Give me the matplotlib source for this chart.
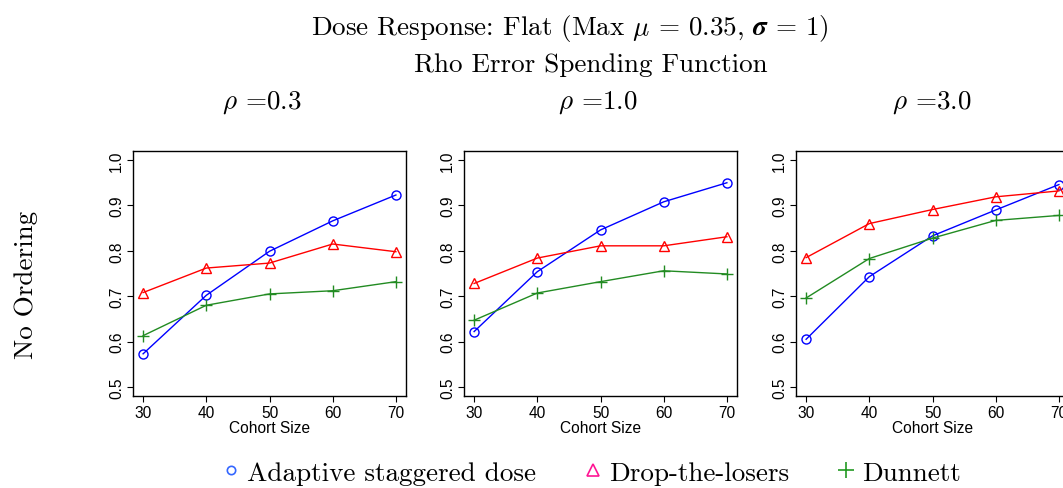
import numpy as np
import matplotlib
matplotlib.use('Agg')
import matplotlib.pyplot as plt
from matplotlib.lines import Line2D

plt.rcParams['mathtext.fontset'] = 'cm'
plt.rcParams['font.family'] = ['Liberation Sans', 'DejaVu Sans']

##### data
cohort = [30, 40, 50, 60, 70]
rho_labels = ['0.3', '1.0', '3.0']

asd_vals = [[0.573, 0.702, 0.799, 0.866, 0.923],
            [0.622, 0.754, 0.846, 0.908, 0.950],
            [0.605, 0.743, 0.833, 0.890, 0.946]]
dtl_vals = [[0.708, 0.762, 0.773, 0.815, 0.798],
            [0.728, 0.784, 0.811, 0.811, 0.831],
            [0.785, 0.860, 0.891, 0.919, 0.932]]
dun_vals = [[0.613, 0.680, 0.705, 0.712, 0.732],
            [0.647, 0.707, 0.732, 0.756, 0.749],
            [0.696, 0.783, 0.828, 0.867, 0.878]]

yticks = [0.5, 0.6, 0.7, 0.8, 0.9, 1.0]
series_names = ['Adaptive staggered dose', 'Drop-the-losers', 'Dunnett']

##### figure
W, H = 1063, 489
fig = plt.figure(figsize=(W / 100, H / 100), dpi=100)

lefts = [133, 464, 796]
rho_x = [262, 598, 932]
ax_w, ax_top, ax_bot = 273, 152, 397
serif = 'cmr10'
big = 19.5

for i in range(3):
    ax = fig.add_axes([lefts[i] / W, (H - ax_bot) / H, ax_w / W, (ax_bot - ax_top) / H])
    ax.plot(cohort, asd_vals[i], color='blue', lw=1.0, marker='o', ms=6.5,
            mfc='none', mec='blue', mew=1.0)
    ax.plot(cohort, dtl_vals[i], color='red', lw=1.0, marker='^', ms=7.5,
            mfc='none', mec='red', mew=1.0)
    ax.plot(cohort, dun_vals[i], color='forestgreen', lw=1.0, marker='+', ms=8.5,
            mew=1.0)
    ax.set_xlim(28.4, 71.6)
    ax.set_ylim(0.48, 1.02)
    ax.set_xticks(cohort)
    ax.set_yticks(yticks)
    ax.set_yticklabels(['%.1f' % v for v in yticks], rotation=90, va='center')
    ax.tick_params(direction='out', length=4.5, width=0.8, labelsize=11.2, pad=2)
    for s in ax.spines.values():
        s.set_linewidth(1.0)
    ax.set_xlabel('Cohort Size', fontsize=11.2, labelpad=0)
    fig.text(rho_x[i] / W, 1 - 103 / H, r'$\rho$ =' + rho_labels[i], ha='center', va='center',
             fontsize=big, family=serif)

fig.text(570 / W, 1 - 28 / H, r'Dose Response: Flat (Max $\mu$ = 0.35, $\boldsymbol{\sigma}$ = 1)',
         ha='center', va='center', fontsize=big, family=serif)
fig.text(591 / W, 1 - 65 / H, 'Rho Error Spending Function', ha='center', va='center',
         fontsize=big, family=serif)
fig.text(26 / W, 1 - 285 / H, 'No Ordering', ha='center', va='center', rotation=90,
         fontsize=big, family=serif)

##### legend
handles = [Line2D([], [], ls='none', marker='o', ms=6, mfc='none', mec='#3366ff', mew=1.2),
           Line2D([], [], ls='none', marker='^', ms=8, mfc='none', mec='#ff1493', mew=1.2),
           Line2D([], [], ls='none', marker='+', ms=11, mec='#229922', mew=1.2)]
fig.legend(handles, series_names, loc='center', bbox_to_anchor=(592 / W, 1 - 474 / H),
           ncol=3, frameon=False, prop={'family': serif, 'size': big},
           handlelength=0.6, handletextpad=0.3, columnspacing=1.8)

fig.savefig('out.png', dpi=100)
